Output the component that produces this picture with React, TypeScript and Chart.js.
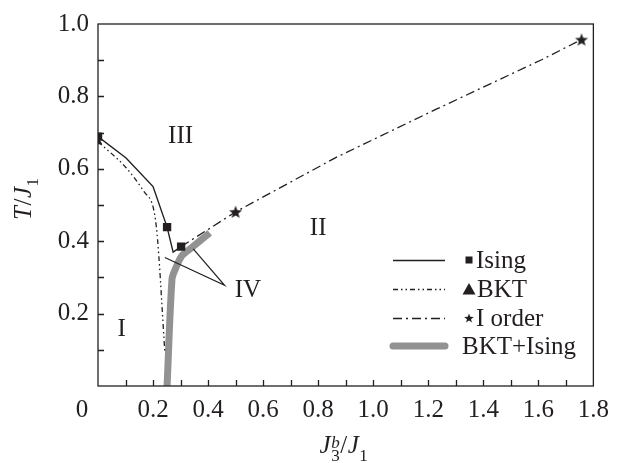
import React, { useEffect, useRef } from 'react';
import { Chart, registerables } from 'chart.js';

Chart.register(...registerables);

// ---- data ----
const isingX = [0, 0.102, 0.2, 0.251, 0.273, 0.302];
const isingY = [0.689, 0.63, 0.551, 0.439, 0.37, 0.385];
const isingMarked = [true, false, false, true, false, true];

const bktX = [0, 0.102, 0.168, 0.2, 0.212, 0.221, 0.233, 0.243];
const bktY = [0.675, 0.603, 0.536, 0.495, 0.44, 0.36, 0.215, 0.09];
const bktMarked = [true, false, false, false, false, false, false, false];

const firstOrderX = [0.302, 0.5, 0.864, 1.233, 1.614, 1.757];
const firstOrderY = [0.385, 0.481, 0.631, 0.766, 0.902, 0.957];
const firstOrderMarked = [false, true, false, false, false, true];

const bktIsingX = [0.251, 0.269, 0.281, 0.305, 0.34, 0.406];
const bktIsingY = [0, 0.296, 0.323, 0.36, 0.382, 0.423];

const ivPointerX = [0.243, 0.46, 0.346];
const ivPointerY = [0.355, 0.278, 0.379];

const regionNames = ['III', 'II', 'I', 'IV'];
const regionX = [0.3, 0.8, 0.086, 0.545];
const regionY = [0.69, 0.436, 0.157, 0.263];

const xMajorTicks = [0.2, 0.4, 0.6, 0.8, 1.0, 1.2, 1.4, 1.6, 1.8];
const yMajorTicks = [0.2, 0.4, 0.6, 0.8, 1.0];

const legendLabels = ['Ising', 'BKT', 'I order', 'BKT+Ising'];

// ---- style ----
const FONT = "'Liberation Serif', 'Times New Roman', serif";
const INK = '#231f20';
const GRAY = '#929292';
const TICK_PAD = 9;

const zip = (xs: number[], ys: number[]) => xs.map((x, i) => ({ x, y: ys[i] }));
const isMajor = (v: number, list: number[]) => list.some((t) => Math.abs(t - v) < 1e-6);

function makeStar(outer: number, inner: number): HTMLCanvasElement {
  const size = Math.ceil(outer * 2 + 2);
  const c = document.createElement('canvas');
  c.width = size;
  c.height = size;
  const g = c.getContext('2d')!;
  g.fillStyle = INK;
  g.beginPath();
  for (let i = 0; i < 10; i++) {
    const r = i % 2 === 0 ? outer : inner;
    const a = -Math.PI / 2 + (i * Math.PI) / 5;
    const px = size / 2 + r * Math.cos(a);
    const py = size / 2 + r * Math.sin(a) + 0.5;
    if (i === 0) g.moveTo(px, py);
    else g.lineTo(px, py);
  }
  g.closePath();
  g.fill();
  return c;
}

type Seg = { t: string; italic?: boolean; size: number; dy?: number; stack?: Seg };

function drawRich(ctx: CanvasRenderingContext2D, segs: Seg[], cx: number, by: number, gap: number) {
  const fontOf = (s: Seg) => `${s.italic ? 'italic ' : ''}${s.size}px ${FONT}`;
  const widths = segs.map((s) => {
    ctx.font = fontOf(s);
    let w = ctx.measureText(s.t).width;
    if (s.stack) {
      ctx.font = fontOf(s.stack);
      w = Math.max(w, ctx.measureText(s.stack.t).width);
    }
    return w;
  });
  const total = widths.reduce((a, b) => a + b, 0) + gap * (segs.length - 1);
  let x = cx - total / 2;
  ctx.textAlign = 'left';
  ctx.textBaseline = 'alphabetic';
  segs.forEach((s, i) => {
    ctx.font = fontOf(s);
    ctx.fillText(s.t, x, by + (s.dy || 0));
    if (s.stack) {
      ctx.font = fontOf(s.stack);
      ctx.fillText(s.stack.t, x, by + (s.stack.dy || 0));
    }
    x += widths[i] + gap;
  });
}

function drawLegendMarker(ctx: CanvasRenderingContext2D, kind: number, x: number, y: number, star: HTMLCanvasElement) {
  ctx.fillStyle = INK;
  if (kind === 0) {
    ctx.fillRect(x - 3.5, y - 3.5, 7, 7);
  } else if (kind === 1) {
    ctx.beginPath();
    ctx.moveTo(x, y - 6);
    ctx.lineTo(x + 6.5, y + 5.5);
    ctx.lineTo(x - 6.5, y + 5.5);
    ctx.closePath();
    ctx.fill();
  } else if (kind === 2) {
    ctx.drawImage(star, x - star.width / 2, y - star.height / 2);
  }
}

export default function App() {
  const ref = useRef<HTMLCanvasElement>(null);

  useEffect(() => {
    const canvas = ref.current!;
    const bigStar = makeStar(6.8, 2.9);
    const smallStar = makeStar(5, 2.1);

    const decor = {
      id: 'decor',
      afterDraw(chart: any) {
        const ctx: CanvasRenderingContext2D = chart.ctx;
        const { left, right, top, bottom } = chart.chartArea;
        const xs = chart.scales.x;
        const ys = chart.scales.y;
        ctx.save();
        // frame
        ctx.strokeStyle = INK;
        ctx.lineWidth = 1.3;
        ctx.strokeRect(left, top, right - left, bottom - top);
        // inward ticks
        ctx.beginPath();
        for (let i = 1; i < 18; i++) {
          const px = Math.round(xs.getPixelForValue(i / 10)) + 0.5;
          ctx.moveTo(px, bottom);
          ctx.lineTo(px, bottom - 6);
        }
        for (let i = 1; i < 10; i++) {
          const py = Math.round(ys.getPixelForValue(i / 10)) + 0.5;
          ctx.moveTo(left, py);
          ctx.lineTo(left + 6, py);
        }
        ctx.stroke();

        ctx.fillStyle = INK;
        // corner zero
        ctx.font = `25px ${FONT}`;
        ctx.textAlign = 'center';
        ctx.textBaseline = 'middle';
        ctx.fillText('0', left - 16, bottom + TICK_PAD + 15);

        // region labels
        regionNames.forEach((name, i) => {
          ctx.fillText(name, xs.getPixelForValue(regionX[i]), ys.getPixelForValue(regionY[i]));
        });

        // axis titles
        drawRich(
          ctx,
          [
            { t: 'J', italic: true, size: 25 },
            { t: 'b', italic: true, size: 17, dy: -5, stack: { t: '3', size: 17, dy: 8 } },
            { t: '/', size: 25 },
            { t: 'J', italic: true, size: 25 },
            { t: '1', size: 17, dy: 8 },
          ],
          (left + right) / 2 - 2,
          453,
          0.5
        );
        ctx.save();
        ctx.translate(31, 199);
        ctx.rotate(-Math.PI / 2);
        drawRich(
          ctx,
          [
            { t: 'T', italic: true, size: 25 },
            { t: '/', size: 25 },
            { t: 'J', italic: true, size: 25 },
            { t: '1', size: 17, dy: 7 },
          ],
          0,
          0,
          0.5
        );
        ctx.restore();

        // legend
        const rows = [260, 289, 318, 346];
        const dashes = [[], [5, 3, 1.5, 3, 1.5, 3], [9, 4, 2, 4]];
        for (let i = 0; i < 3; i++) {
          ctx.beginPath();
          ctx.setLineDash(dashes[i]);
          ctx.lineWidth = 1.3;
          ctx.strokeStyle = INK;
          ctx.moveTo(393, rows[i] + 0.5);
          ctx.lineTo(445, rows[i] + 0.5);
          ctx.stroke();
          drawLegendMarker(ctx, i, 469, rows[i], smallStar);
        }
        ctx.setLineDash([]);
        ctx.beginPath();
        ctx.lineCap = 'round';
        ctx.lineWidth = 7;
        ctx.strokeStyle = GRAY;
        ctx.moveTo(393, rows[3]);
        ctx.lineTo(445, rows[3]);
        ctx.stroke();
        ctx.lineCap = 'butt';
        ctx.fillStyle = INK;
        ctx.font = `25px ${FONT}`;
        ctx.textAlign = 'left';
        ctx.textBaseline = 'alphabetic';
        const textX = [476, 477, 476, 462];
        legendLabels.forEach((lab, i) => ctx.fillText(lab, textX[i], rows[i] + 8));
        ctx.restore();
      },
    };

    const chart = new Chart(canvas, {
      type: 'scatter',
      data: {
        datasets: [
          {
            label: 'Ising',
            data: zip(isingX, isingY),
            showLine: true,
            borderColor: INK,
            borderWidth: 1.4,
            backgroundColor: INK,
            pointStyle: 'rect',
            pointRadius: isingMarked.map((m) => (m ? 5.9 : 0)),
            pointBorderWidth: 0,
            order: 1,
          },
          {
            label: 'BKT',
            data: zip(bktX, bktY),
            showLine: true,
            borderColor: INK,
            borderWidth: 1.3,
            borderDash: [5, 3, 1.5, 3, 1.5, 3],
            backgroundColor: INK,
            pointStyle: 'triangle',
            pointRadius: bktMarked.map((m) => (m ? 5 : 0)),
            pointBorderWidth: 0,
            cubicInterpolationMode: 'monotone',
            order: 2,
          },
          {
            label: 'I order',
            data: zip(firstOrderX, firstOrderY),
            showLine: true,
            borderColor: INK,
            borderWidth: 1.3,
            borderDash: [9, 4, 2, 4],
            backgroundColor: INK,
            pointStyle: bigStar as any,
            pointRadius: firstOrderMarked.map((m) => (m ? 6 : 0)),
            pointBorderWidth: 0,
            order: 2,
          },
          {
            label: 'IV pointers',
            data: zip(ivPointerX, ivPointerY),
            showLine: true,
            borderColor: INK,
            borderWidth: 1.2,
            pointRadius: 0,
            order: 0,
          },
          {
            label: 'BKT+Ising',
            data: zip(bktIsingX, bktIsingY),
            showLine: true,
            borderColor: GRAY,
            borderWidth: 7,
            pointRadius: 0,
            tension: 0.3,
            order: 5,
          },
        ],
      },
      options: {
        responsive: false,
        animation: false,
        devicePixelRatio: 1,
        events: [],
        layout: { padding: { left: 0, right: 16, top: 17, bottom: 0 } },
        plugins: { legend: { display: false }, tooltip: { enabled: false } },
        scales: {
          x: {
            type: 'linear',
            min: 0,
            max: 1.8,
            grid: { display: false, drawTicks: false },
            border: { display: false },
            ticks: {
              stepSize: 0.1,
              autoSkip: false,
              maxRotation: 0,
              padding: TICK_PAD,
              color: INK,
              font: { family: FONT, size: 25 },
              callback: (v: any) => (isMajor(Number(v), xMajorTicks) ? Number(v).toFixed(1) : ''),
            },
            afterFit: (s: any) => {
              s.height = 77;
            },
          },
          y: {
            type: 'linear',
            min: 0,
            max: 1.0,
            grid: { display: false, drawTicks: false },
            border: { display: false },
            ticks: {
              stepSize: 0.1,
              autoSkip: false,
              padding: TICK_PAD,
              color: INK,
              font: { family: FONT, size: 25 },
              callback: (v: any) => (isMajor(Number(v), yMajorTicks) ? Number(v).toFixed(1) : ''),
            },
            afterFit: (s: any) => {
              s.width = 98;
            },
          },
        },
      },
      plugins: [decor],
    } as any);

    return () => chart.destroy();
  }, []);

  return (
    <div style={{ position: 'absolute', left: 0, top: 0, width: 618, height: 463, background: '#fff' }}>
      <canvas ref={ref} width={618} height={463} style={{ display: 'block' }} />
    </div>
  );
}
